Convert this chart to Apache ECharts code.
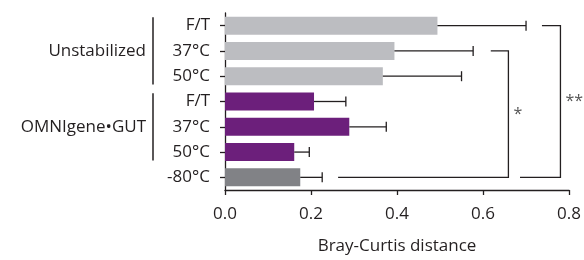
<!DOCTYPE html>
<html>
<head>
<meta charset="utf-8">
<script src="https://cdn.jsdelivr.net/npm/echarts@6/dist/echarts.min.js"></script>
<style>
html, body { margin: 0; padding: 0; background: #fff; }
#chart { width: 584px; height: 260px; }
</style>
</head>
<body>
<div id="chart"></div>
<script>
// bars, top to bottom
var categories = ['F/T', '37°C', '50°C', 'F/T', '37°C', '50°C', '-80°C'];
var distances = [0.494, 0.394, 0.367, 0.207, 0.289, 0.161, 0.175];
var errors = [0.206, 0.183, 0.183, 0.074, 0.086, 0.035, 0.051];
var barColors = ['#bcbdc1', '#bcbdc1', '#bcbdc1', '#6c1f7b', '#6c1f7b', '#6c1f7b', '#818286'];

// group labels on the left
var groupNames = ['Unstabilized', 'OMNIgene•GUT'];
var groupFirst = [0, 3];
var groupLast = [2, 5];

// significance brackets (x in data units)
var bracketLabels = ['*', '**'];
var bracketTopRow = [1, 0];
var bracketBottomRow = [6, 6];
var bracketTopStart = [0.618, 0.737];
var bracketBottomStart = [0.263, 0.686];
var bracketRight = [0.659, 0.780];

var ink = '#231f20';
var font = 'Open Sans';
var fsize = 17;

var chart = echarts.init(document.getElementById('chart'));

var barData = distances.map(function (v, i) {
  return { value: v, itemStyle: { color: barColors[i] } };
});
var errData = distances.map(function (v, i) { return [v, i, errors[i]]; });
var groupData = groupNames.map(function (n, i) { return [0, groupFirst[i], groupLast[i]]; });
var bracketData = bracketLabels.map(function (l, i) {
  return [bracketTopStart[i], bracketTopRow[i], bracketBottomRow[i], bracketBottomStart[i], bracketRight[i]];
});

chart.setOption({
  animation: false,
  grid: { left: 225, right: 11, top: 13, bottom: 63, containLabel: false },
  xAxis: {
    type: 'value', min: 0, max: 0.8, interval: 0.2,
    name: 'Bray-Curtis distance', nameLocation: 'middle', nameGap: 48,
    nameTextStyle: { color: ink, fontFamily: font, fontSize: fsize },
    axisLine: { show: true, lineStyle: { color: ink, width: 1.3 } },
    axisTick: { show: true, length: 5, lineStyle: { color: ink, width: 1.3 } },
    axisLabel: { color: ink, fontFamily: font, fontSize: fsize, margin: 16,
      formatter: function (v) { return v.toFixed(1); } },
    splitLine: { show: false }
  },
  yAxis: {
    type: 'category', data: categories, inverse: true,
    axisLine: { show: true, lineStyle: { color: ink, width: 1.3 } },
    axisTick: { show: true, length: 5, alignWithLabel: true, lineStyle: { color: ink, width: 1.3 } },
    axisLabel: { color: ink, fontFamily: font, fontSize: fsize, margin: 15 }
  },
  series: [
    {
      type: 'bar', data: barData, barWidth: 18
    },
    {
      type: 'custom', data: errData, clip: false, z: 3,
      encode: { x: 0, y: 1 },
      renderItem: function (params, api) {
        var a = api.coord([api.value(0), api.value(1)]);
        var b = api.coord([api.value(0) + api.value(2), api.value(1)]);
        var st = { stroke: ink, lineWidth: 1.3 };
        return { type: 'group', children: [
          { type: 'line', shape: { x1: a[0], y1: a[1], x2: b[0], y2: b[1] }, style: st },
          { type: 'line', shape: { x1: b[0], y1: b[1] - 5, x2: b[0], y2: b[1] + 5 }, style: st }
        ] };
      }
    },
    {
      type: 'custom', data: groupData, clip: false,
      encode: { x: 0, y: 1 },
      renderItem: function (params, api) {
        var i = params.dataIndex;
        var top = api.coord([0, api.value(1)]);
        var bot = api.coord([0, api.value(2)]);
        var half = api.size([0, 1])[1] * 0.33;
        var lx = top[0] - 72;
        return { type: 'group', children: [
          { type: 'line', shape: { x1: lx, y1: top[1] - half, x2: lx, y2: bot[1] + half },
            style: { stroke: ink, lineWidth: 1.5 } },
          { type: 'text', x: lx - 7, y: (top[1] + bot[1]) / 2,
            style: { text: groupNames[i], fill: ink, font: fsize + 'px "' + font + '"',
              align: 'right', verticalAlign: 'middle' } }
        ] };
      }
    },
    {
      type: 'custom', data: bracketData, clip: false,
      encode: { x: 0, y: 1 },
      renderItem: function (params, api) {
        var i = params.dataIndex;
        var t = api.coord([api.value(0), api.value(1)]);
        var r = api.coord([api.value(4), api.value(1)]);
        var rb = api.coord([api.value(4), api.value(2)]);
        var b = api.coord([api.value(3), api.value(2)]);
        return { type: 'group', children: [
          { type: 'polyline', shape: { points: [t, r, rb, b] },
            style: { stroke: ink, lineWidth: 1.3, fill: null } },
          { type: 'text', x: r[0] + 5, y: (r[1] + rb[1]) / 2,
            style: { text: bracketLabels[i], fill: '#555', font: '16px "' + font + '"',
              align: 'left', verticalAlign: 'middle' } }
        ] };
      }
    }
  ]
});
</script>
</body>
</html>
